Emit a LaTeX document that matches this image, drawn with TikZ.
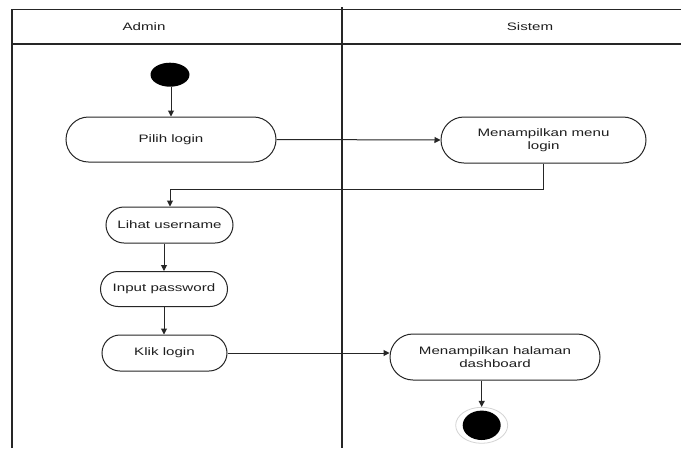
\documentclass[tikz,border=0pt]{standalone}
\usepackage{fontspec}
\setmainfont[FakeStretch=1.4]{Liberation Sans}
\usepackage{xcolor}
\usepackage{tikz}
\usetikzlibrary{calc,arrows.meta,positioning,shapes.misc,shapes.geometric}
\definecolor{linec}{HTML}{262626}
\definecolor{textc}{HTML}{1E1E1E}
\definecolor{haloc}{HTML}{D4D4D4}
\tikzset{
  ar/.style={-{Triangle[length=6pt,width=6pt]},line width=1pt,linec},
  act/.style={draw=linec,line width=1pt,rounded rectangle,fill=white,align=center,inner sep=0pt,
    text=textc,font=\fontsize{10.8}{13}\selectfont},
  lane/.style={draw=linec,line width=1.2pt},
  lanetxt/.style={text=textc,font=\fontsize{10.8}{13}\selectfont}
}
\begin{document}
\begin{tikzpicture}[x=1pt,y=-1pt]
\useasboundingbox (0,0) rectangle (681,448);
\fill[white] (0,0) rectangle (681,448);
\draw[lane] (12,448) -- (12,9.5) -- (681,9.5);
\draw[lane] (12,44) -- (681,44);
\draw[lane] (342,7) -- (342,448);
\node[lanetxt] (admin) at (144,27) {Admin};
\node[lanetxt] (sistem) at (530,27) {Sistem};
\node[ellipse,fill=black,minimum width=39pt,minimum height=24pt,inner sep=0pt] (start) at (170,74.7) {};
\node[act,minimum width=210pt,minimum height=45pt] (pilih) at (171,139.5) {Pilih login};
\node[act,minimum width=205pt,minimum height=46pt] (menu) at (543.5,140) {Menampilkan menu\\login};
\node[act,minimum width=127pt,minimum height=36pt] (lihat) at (169.5,225) {Lihat username};
\node[act,minimum width=127pt,minimum height=35pt] (input) at (164,289) {Input password};
\node[act,minimum width=125pt,minimum height=36pt] (klik) at (164.5,353) {Klik login};
\node[act,minimum width=210pt,minimum height=46pt] (halaman) at (495,357) {Menampilkan halaman\\dashboard};
\node[ellipse,draw=haloc,line width=0.8pt,fill=white,minimum width=52pt,minimum height=36pt,inner sep=0pt,
  path picture={\fill[black] (path picture bounding box.center) ellipse (19pt and 14.7pt);}] (end) at (481.7,425.3) {};
\coordinate (bend) at (170,189);
\draw[ar] (start.south -| 171,0) -- (pilih.north -| 171,0);
\draw[ar] (pilih.east) -- (menu.west);
\draw[ar] (menu.south) |- (bend) -- (bend |- lihat.north);
\draw[ar] (lihat.south -| input) -- (input.north);
\draw[ar] (input.south) -- (klik.north -| input);
\draw[ar] (klik.east) -- (klik.east -| halaman.west);
\draw[ar] (end |- halaman.south) -- (end.north);
\end{tikzpicture}
\end{document}
